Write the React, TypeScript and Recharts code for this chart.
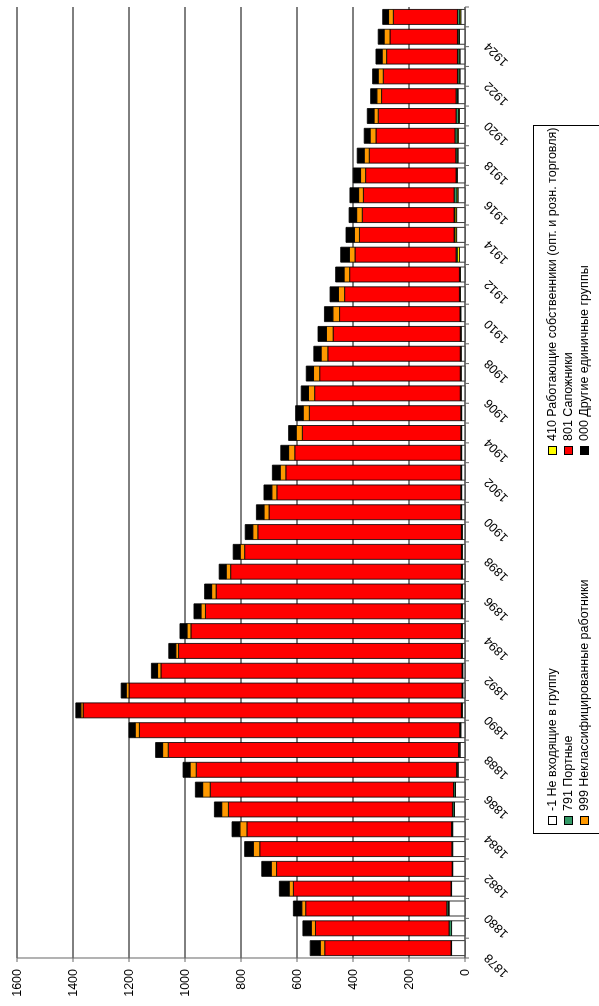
import { Bar, BarChart, CartesianGrid, XAxis, YAxis } from 'recharts';

// years on the category axis, 1878..1925
const years = [
    1878, 1879, 1880, 1881, 1882, 1883, 1884, 1885, 1886, 1887, 1888, 1889,
    1890, 1891, 1892, 1893, 1894, 1895, 1896, 1897, 1898, 1899, 1900, 1901,
    1902, 1903, 1904, 1905, 1906, 1907, 1908, 1909, 1910, 1911, 1912, 1913,
    1914, 1915, 1916, 1917, 1918, 1919, 1920, 1921, 1922, 1923, 1924, 1925,
];

const notInGroup = [
    48, 48, 57, 48, 44, 44, 44, 38, 34, 25, 18, 15,
    10, 8, 8, 10, 10, 10, 10, 10, 10, 10, 12, 12,
    12, 12, 12, 12, 14, 14, 14, 14, 15, 17, 17, 20,
    30, 30, 25, 28, 25, 24, 20, 25, 18, 18, 20, 15,
];

const owners = [
    0, 0, 2, 0, 0, 0, 1, 1, 1, 1, 1, 1,
    1, 1, 1, 1, 1, 1, 1, 1, 1, 1, 1, 1,
    1, 1, 1, 1, 1, 1, 1, 1, 1, 1, 1, 8,
    6, 6, 4, 1, 3, 4, 3, 2, 3, 3, 2, 4,
];

const tailors = [
    2, 9, 6, 2, 2, 3, 3, 6, 6, 4, 4, 3,
    2, 2, 2, 2, 2, 2, 2, 2, 2, 2, 2, 2,
    2, 2, 2, 2, 2, 2, 2, 2, 2, 2, 2, 4,
    3, 3, 10, 3, 5, 8, 9, 5, 6, 6, 5, 8,
];

const shoemakers = [
    451, 477, 504, 563, 627, 686, 731, 800, 869, 930, 1037, 1144,
    1351, 1189, 1075, 1010, 966, 914, 876, 824, 774, 727, 685, 657,
    625, 593, 566, 541, 520, 502, 473, 454, 430, 410, 392, 361,
    338, 328, 324, 323, 309, 282, 278, 266, 265, 253, 241, 229,
];

const unclassified = [
    16, 15, 14, 15, 19, 23, 25, 24, 27, 22, 20, 15,
    8, 10, 12, 10, 14, 16, 16, 16, 16, 18, 18, 18,
    20, 22, 22, 22, 22, 22, 24, 24, 24, 22, 20, 20,
    18, 20, 17, 18, 18, 21, 15, 17, 18, 16, 21, 17,
];

const otherGroups = [
    36, 30, 30, 35, 34, 31, 28, 26, 26, 25, 25, 22,
    18, 18, 22, 25, 25, 25, 25, 25, 25, 27, 27, 28,
    28, 28, 27, 27, 26, 26, 26, 30, 30, 30, 30, 31,
    30, 27, 31, 26, 25, 21, 24, 22, 20, 22, 21, 21,
];

const valueTicks = [0, 200, 400, 600, 800, 1000, 1200, 1400, 1600];

const series = [
    { key: 'g1', name: '-1 Не входящие в группу', color: '#FFFFFF', values: notInGroup },
    { key: 'g410', name: '410 Работающие собственники (опт. и розн. торговля)', color: '#FFFF00', values: owners },
    { key: 'g791', name: '791 Портные', color: '#339966', values: tailors },
    { key: 'g801', name: '801 Сапожники', color: '#FF0000', values: shoemakers },
    { key: 'g999', name: '999 Неклассифицированные работники', color: '#FF9900', values: unclassified },
    { key: 'g000', name: '000 Другие единичные группы', color: '#000000', values: otherGroups },
];

const data = years.map((year, i) => {
    const row: Record<string, number> = { year };
    series.forEach((s) => {
        row[s.key] = s.values[i];
    });
    return row;
});

// the chart is laid out upright and then turned a quarter turn to the left
const W = 1006;
const H = 599;
const AXIS_W = 48;
const RIGHT = 7;
const TOP = 17;
const X_AXIS_H = 134;
const band = (W - AXIS_W - RIGHT) / years.length;
const FONT = '"Liberation Sans", Arial, sans-serif';

function YearTick(props: any) {
    const { x, y, index, payload } = props;
    const ax = x - 5;
    const ay = y + 24;
    return (
        <g>
            <line x1={x - band / 2} x2={x - band / 2} y1={y} y2={y + 4} stroke="#666" />
            {index === years.length - 1 && (
                <line x1={x + band / 2} x2={x + band / 2} y1={y} y2={y + 4} stroke="#666" />
            )}
            {index % 2 === 0 && (
                <text
                    x={ax}
                    y={ay}
                    transform={`rotate(-45 ${ax} ${ay})`}
                    textAnchor="end"
                    fontSize={12.5}
                    fontFamily={FONT}
                    fill="#000"
                >
                    {payload.value}
                </text>
            )}
        </g>
    );
}

const legendCols = [180, 550];
const legendRows = [551, 567, 583];

function ChartLegend() {
    return (
        <div
            style={{
                position: 'absolute',
                left: 172,
                top: 533,
                width: 709,
                height: 67,
                border: '1px solid #000',
                boxSizing: 'border-box',
                background: '#fff',
            }}
        >
            {series.map((s, i) => {
                const col = i % 2;
                const row = Math.floor(i / 2);
                return (
                    <div
                        key={s.key}
                        style={{
                            position: 'absolute',
                            left: legendCols[col] - 172,
                            top: legendRows[row] - 533 - 8,
                            height: 16,
                            display: 'flex',
                            alignItems: 'center',
                            whiteSpace: 'nowrap',
                            fontSize: 12.5,
                            fontFamily: FONT,
                            color: '#000',
                        }}
                    >
                        <span
                            style={{
                                display: 'inline-block',
                                width: 7,
                                height: 7,
                                background: s.color,
                                border: '1px solid #000',
                                marginRight: 5,
                            }}
                        />
                        {s.name}
                    </div>
                );
            })}
        </div>
    );
}

export default function App() {
    return (
        <div
            style={{
                position: 'fixed',
                left: 0,
                top: 0,
                width: W,
                height: H,
                background: '#fff',
                transformOrigin: '0 0',
                transform: `translateY(${W}px) rotate(-90deg)`,
            }}
        >
            <BarChart
                width={W}
                height={H}
                data={data}
                margin={{ top: TOP, right: RIGHT, left: 0, bottom: 0 }}
                barCategoryGap="12%"
            >
                <CartesianGrid vertical={false} stroke="#000" />
                <XAxis
                    dataKey="year"
                    interval={0}
                    height={X_AXIS_H}
                    tickSize={0}
                    tickMargin={0}
                    tickLine={false}
                    axisLine={{ stroke: '#666' }}
                    tick={<YearTick />}
                />
                <YAxis
                    type="number"
                    domain={[0, 1600]}
                    ticks={valueTicks}
                    interval={0}
                    width={AXIS_W}
                    tickSize={4}
                    tickMargin={7}
                    axisLine={{ stroke: '#666' }}
                    tickLine={{ stroke: '#666' }}
                    tick={{ fontSize: 12.5, fill: '#000', fontFamily: FONT }}
                />
                {series.map((s) => (
                    <Bar
                        key={s.key}
                        dataKey={s.key}
                        name={s.name}
                        stackId="all"
                        fill={s.color}
                        stroke="#000"
                        strokeWidth={0.8}
                        isAnimationActive={false}
                    />
                ))}
            </BarChart>
            <ChartLegend />
        </div>
    );
}
